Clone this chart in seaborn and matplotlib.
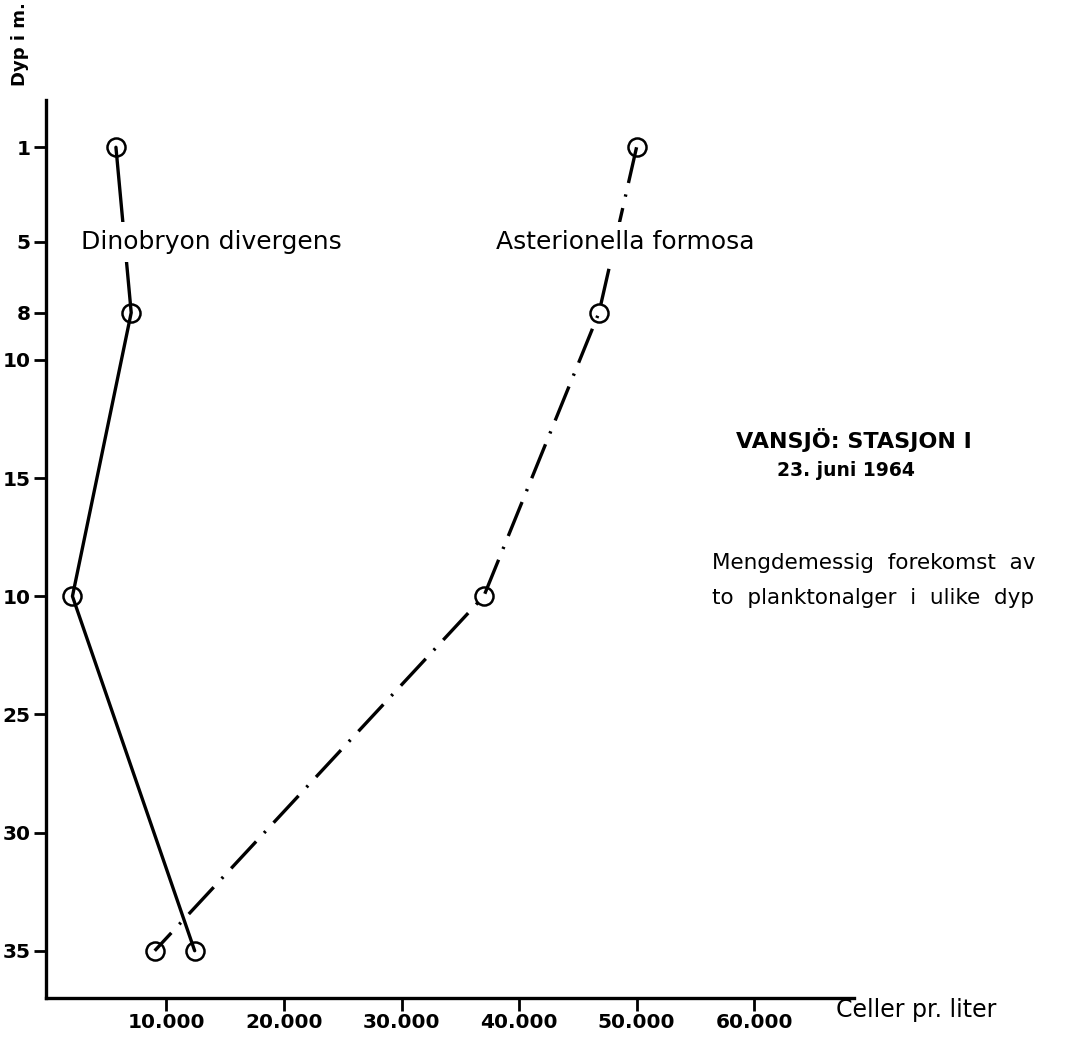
import numpy as np
import pandas as pd
import seaborn as sns
import matplotlib.pyplot as plt

# depth (m) and cells per litre
dyp = [1, 8, 20, 35]
dinobryon = [5700, 7000, 2000, 12400]
asterionella = [50000, 46800, 37000, 9000]

ytick_pos = [1, 5, 8, 10, 15, 20, 25, 30, 35]
ytick_lab = ['1', '5', '8', '10', '15', '10', '25', '30', '35']
xtick_pos = [10000, 20000, 30000, 40000, 50000, 60000]
xtick_lab = ['10.000', '20.000', '30.000', '40.000', '50.000', '60.000']

df = pd.DataFrame({
    'dyp': dyp * 2,
    'celler': dinobryon + asterionella,
    'art': ['Dinobryon divergens'] * 4 + ['Asterionella formosa'] * 4,
})

sns.set_style('ticks')
plt.rcParams['font.family'] = ['DejaVu Sans']
plt.rcParams['text.color'] = 'black'
plt.rcParams['xtick.color'] = 'black'
plt.rcParams['ytick.color'] = 'black'

fig = plt.figure(figsize=(10.68, 10.48), dpi=100)
ax = fig.add_axes([46 / 1068, 1 - 998 / 1048, (854 - 46) / 1068, (998 - 100) / 1048])

sns.lineplot(data=df, x='celler', y='dyp', style='art', sort=False, estimator=None,
             orient='y', color='black', linewidth=2.4,
             dashes={'Dinobryon divergens': '', 'Asterionella formosa': (11, 3.5, 0.7, 3.5)},
             markers={'Dinobryon divergens': 'o', 'Asterionella formosa': 'o'},
             legend=False, ax=ax)
for ln in ax.lines:
    ln.set_markersize(13)
    ln.set_markerfacecolor('none')
    ln.set_markeredgecolor('black')
    ln.set_markeredgewidth(1.8)

ax.set_xlim(-250, 68500)
ax.set_ylim(37, -1)
ax.set_yticks(ytick_pos)
ax.set_yticklabels(ytick_lab)
ax.set_xticks(xtick_pos)
ax.set_xticklabels(xtick_lab)
for lab in ax.get_xticklabels() + ax.get_yticklabels():
    lab.set_fontweight('bold')
    lab.set_fontsize(14.5)
    lab.set_color('black')
ax.tick_params(axis='both', direction='out', length=9, width=2, color='black', pad=2,
               left=True, bottom=True)
ax.set_xlabel('')
ax.set_ylabel('')
sns.despine(ax=ax)
for s in ['left', 'bottom']:
    ax.spines[s].set_linewidth(2.4)
    ax.spines[s].set_color('black')

box = dict(facecolor='white', edgecolor='none', pad=6)
ax.text(2700, 5, 'Dinobryon divergens', fontsize=18, ha='left', va='center', bbox=box, zorder=5)
ax.text(38000, 5, 'Asterionella formosa', fontsize=18, ha='left', va='center', bbox=box, zorder=5)

fig.text(20 / 1068, 1 - 44 / 1048, 'Dyp i m.', rotation=90, ha='center', va='center',
         fontsize=13, fontweight='bold')
fig.text(836 / 1068, 1 - 1010 / 1048, 'Celler pr. liter', ha='left', va='center', fontsize=17)
fig.text(854 / 1068, 1 - 440 / 1048, 'VANSJÖ: STASJON I', ha='center', va='center',
         fontsize=16, fontweight='bold')
fig.text(846 / 1068, 1 - 470 / 1048, '23. juni 1964', ha='center', va='center',
         fontsize=13.5, fontweight='bold')
fig.text(712 / 1068, 1 - 563 / 1048, 'Mengdemessig  forekomst  av', ha='left', va='center', fontsize=15.5)
fig.text(712 / 1068, 1 - 598 / 1048, 'to  planktonalger  i  ulike  dyp', ha='left', va='center', fontsize=15.5)

fig.savefig('out.png', dpi=100)
